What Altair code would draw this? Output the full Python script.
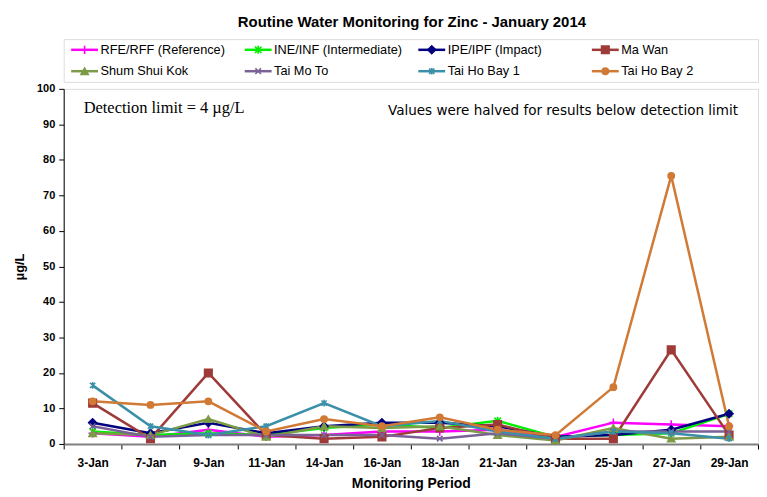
import altair as alt
import pandas as pd

dates = ["3-Jan", "7-Jan", "9-Jan", "11-Jan", "14-Jan", "16-Jan", "18-Jan",
         "21-Jan", "23-Jan", "25-Jan", "27-Jan", "29-Jan"]
series = ["RFE/RFF (Reference)", "INE/INF (Intermediate)", "IPE/IPF (Impact)", "Ma Wan",
          "Shum Shui Kok", "Tai Mo To", "Tai Ho Bay 1", "Tai Ho Bay 2"]
rfe = [3, 2, 4, 2, 2.5, 3.5, 3.5, 4, 2, 6, 5.5, 5]
ine = [3.5, 2.5, 3, 2.5, 4.5, 5.5, 4.5, 6.5, 2, 2.5, 3, 8.5]
ipe = [6, 3, 6, 3, 5, 6, 6, 5, 2, 2.5, 4, 8.5]
ma_wan = [11.5, 1.5, 20, 2.5, 1.5, 2, 4.5, 5.5, 1.5, 1.5, 26.5, 2.5]
shum_shui_kok = [3, 2.5, 7, 2, 5, 4.5, 5, 2.5, 1, 4.5, 1.5, 2]
tai_mo_to = [5, 2, 2.5, 2.5, 2.5, 2.5, 1.5, 3, 1.5, 3.5, 3.5, 3.5]
tai_ho_bay_1 = [16.5, 5, 2.5, 5, 11.5, 5, 6.5, 3.5, 1.5, 3.5, 3, 1.5]
tai_ho_bay_2 = [12, 11, 12, 3.5, 7, 5, 7.5, 4, 2.5, 16, 75.5, 5]
all_values = [rfe, ine, ipe, ma_wan, shum_shui_kok, tai_mo_to, tai_ho_bay_1, tai_ho_bay_2]
y_ticks = [0, 10, 20, 30, 40, 50, 60, 70, 80, 90, 100]

colors = ["#FF00FF", "#00EE00", "#000080", "#9E3B39", "#7D9A46", "#7A6296", "#3B8FA8", "#D07A35"]
PLUS = "M-1,0L1,0M0,-1L0,1"
XS = "M-0.8,-0.8L0.8,0.8M-0.8,0.8L0.8,-0.8"
STAR = "M-0.8,-0.8L0.8,0.8M-0.8,0.8L0.8,-0.8M0,-1L0,1"
shapes = [PLUS, STAR, "diamond", "square", "triangle-up", XS, STAR, "circle"]
fills = ["transparent", "transparent", "#000080", "#9E3B39", "#7D9A46",
         "transparent", "transparent", "#D07A35"]
sizes = [70, 40, 40, 55, 60, 60, 80, 70]

rows = []
for s, vals in zip(series, all_values):
    for d, v in zip(dates, vals):
        rows.append({"date": d, "series": s, "value": v})
df = pd.DataFrame(rows)

leg_df = pd.DataFrame({"series": series,
                       "col": [i % 4 for i in range(len(series))],
                       "row": [i // 4 for i in range(len(series))]})

stroke_scale = alt.Scale(domain=series, range=colors)
fill_scale = alt.Scale(domain=series, range=fills)
shape_scale = alt.Scale(domain=series, range=shapes)
size_scale = alt.Scale(domain=series, range=sizes)

W = 698
FONT = "Liberation Sans"

xscale = alt.Scale(domain=dates, paddingInner=0, paddingOuter=0)
yscale = alt.Scale(domain=[0, 100], nice=False)
xaxis = alt.Axis(title="Monitoring Period", labelAngle=0, tickBand="extent",
                 labelFont=FONT, labelFontSize=12, labelFontWeight="bold",
                 labelColor="black", titleFont=FONT, titleFontSize=14,
                 titleFontWeight="bold", titleColor="black", titlePadding=8,
                 domainColor="#808080", domainWidth=2, tickColor="black",
                 tickSize=5, labelPadding=9)
yaxis = alt.Axis(title="µg/L", values=y_ticks, tickCount=len(y_ticks), grid=False,
                 labelOverlap=False,
                 labelFont=FONT, labelFontSize=11, labelFontWeight="bold",
                 labelColor="black", titleFont=FONT, titleFontSize=13,
                 titleFontWeight="bold", titleColor="black", titlePadding=10,
                 domainColor="black", tickColor="black", tickSize=5,
                 labelPadding=4)
xenc = alt.X("date:O", sort=dates, scale=xscale, axis=xaxis)
yenc = alt.Y("value:Q", scale=yscale, axis=yaxis)

base = alt.Chart(df)
lines = base.mark_line(strokeWidth=2.5).encode(
    x=xenc, y=yenc,
    stroke=alt.Stroke("series:N", scale=stroke_scale, legend=None),
    detail="series:N",
)
points = base.mark_point(filled=False, strokeWidth=1.6, opacity=1).encode(
    x=xenc, y=yenc,
    stroke=alt.Stroke("series:N", scale=stroke_scale, legend=None),
    fill=alt.Fill("series:N", scale=fill_scale, legend=None),
    shape=alt.Shape("series:N", scale=shape_scale, legend=None),
    size=alt.Size("series:N", scale=size_scale, legend=None),
)

ann = alt.Chart(pd.DataFrame({"t": [0]}))
note_left = ann.mark_text(text="Detection limit = 4 µg/L", font="Liberation Serif",
                          fontSize=16.5, align="left", baseline="middle", dx=-9,
                          color="black").encode(
    x=alt.XDatum("3-Jan", type="ordinal", scale=xscale, axis=xaxis),
    y=alt.YDatum(94.7, type="quantitative", scale=yscale, axis=yaxis))
note_right = ann.mark_text(text="Values were halved for results below detection limit",
                           font="DejaVu Sans", fontSize=13.6, align="right",
                           baseline="middle", dx=9, color="black").encode(
    x=alt.XDatum("29-Jan", type="ordinal", scale=xscale, axis=xaxis),
    y=alt.YDatum(93.9, type="quantitative", scale=yscale, axis=yaxis))

main = alt.layer(lines, points, note_left, note_right).properties(width=W, height=357)

lx = alt.X("col:O", scale=alt.Scale(type="band", paddingInner=0, paddingOuter=0),
           axis=None, bandPosition=0)
ly = alt.Y("row:O", scale=alt.Scale(type="band", paddingInner=0, paddingOuter=0), axis=None)
lbase = alt.Chart(leg_df)
leg_lines = lbase.mark_point(shape="stroke", size=729, strokeWidth=2.5, filled=False,
                             xOffset=21, opacity=1).encode(
    x=lx, y=ly, stroke=alt.Stroke("series:N", scale=stroke_scale, legend=None))
leg_pts = lbase.mark_point(filled=False, strokeWidth=1.6, xOffset=21, opacity=1).encode(
    x=lx, y=ly,
    stroke=alt.Stroke("series:N", scale=stroke_scale, legend=None),
    fill=alt.Fill("series:N", scale=fill_scale, legend=None),
    shape=alt.Shape("series:N", scale=shape_scale, legend=None),
    size=alt.Size("series:N", scale=size_scale, legend=None),
)
leg_text = lbase.mark_text(align="left", baseline="middle", dx=37, font=FONT,
                           fontSize=12.8, color="black").encode(x=lx, y=ly, text="series:N")
legend = alt.layer(leg_lines, leg_pts, leg_text).properties(width=W, height=43)

chart = alt.vconcat(legend, main, spacing=7, bounds="flush").properties(
    title=alt.TitleParams("Routine Water Monitoring for Zinc - January 2014", font=FONT,
                          fontSize=15, fontWeight="bold", color="black", anchor="middle",
                          offset=9, dx=26),
    padding={"left": 5, "top": 5, "right": 0, "bottom": 0},
).configure_view(stroke="#808080", strokeWidth=1).configure(background="white")

chart.save("out.html", embed_options={"renderer": "svg", "actions": False})
